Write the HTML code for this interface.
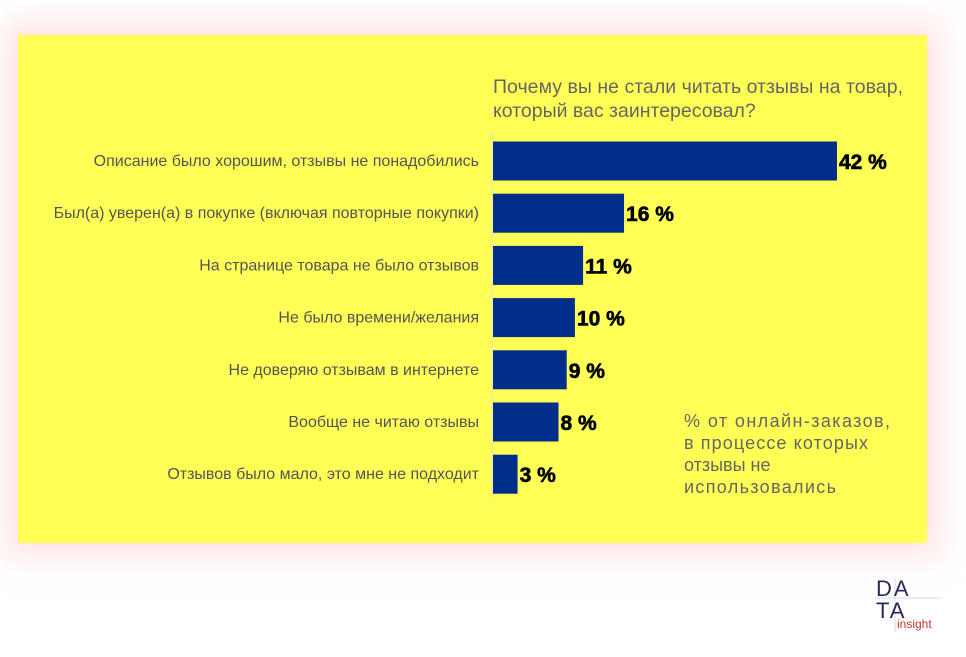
<!DOCTYPE html>
<html><head><meta charset="utf-8"><style>
body{margin:0;width:966px;height:657px;background:#fff;overflow:hidden;position:relative;font-family:"Liberation Sans","DejaVu Sans",sans-serif}
#panel{position:absolute;left:18px;top:35px;width:909px;height:508px;background:#ffff55;box-shadow:0 0 30px 12px rgba(255,200,200,0.55)}
#chart{position:absolute;left:0;top:0}
.lbl{font-size:16px;fill:#555}
.val{font-size:21px;font-weight:bold;fill:#000;stroke:#000;stroke-width:0.6}
</style></head><body>
<div id="panel"></div>
<svg id="chart" width="966" height="657">
<text x="493" y="93" font-size="19.5" fill="#666" textLength="410">Почему вы не стали читать отзывы на товар,</text>
<text x="493" y="117" font-size="19.5" fill="#666">который вас заинтересовал?</text>
<line x1="492" y1="133" x2="492" y2="498" stroke="#ddd" stroke-width="1"/>
<g id="bars"></g>
<text x="684" y="427" font-size="18" fill="#666" textLength="206">% от онлайн-заказов,</text>
<text x="684" y="449" font-size="18" fill="#666" textLength="184">в процессе которых</text>
<text x="684" y="471" font-size="18" fill="#666">отзывы не</text>
<text x="684" y="493" font-size="18" fill="#666" textLength="152">использовались</text>
<g>
<line x1="895" y1="578" x2="895" y2="632" stroke="#cde" stroke-width="1"/>
<line x1="874" y1="598" x2="940" y2="598" stroke="#cde" stroke-width="1"/>
<text x="876" y="596" font-size="22" letter-spacing="2" fill="#2a2a5a">DA</text>
<text x="876" y="618" font-size="22" letter-spacing="2" fill="#2a2a5a">TA</text>
<text x="897" y="628" font-size="12" fill="#c0392b">insight</text>
</g>
</svg>
<script>
const categories=["Описание было хорошим, отзывы не понадобились","Был(а) уверен(а) в покупке (включая повторные покупки)","На странице товара не было отзывов","Не было времени/желания","Не доверяю отзывам в интернете","Вообще не читаю отзывы","Отзывов было мало, это мне не подходит"];
const values=[42,16,11,10,9,8,3];
const labels=["42 %","16 %","11 %","10 %","9 %","8 %","3 %"];
const x0=493, pxPer=8.19, y0=161, step=52.2, bh=39;
const xs=v=>x0+v*pxPer, ys=i=>y0+i*step;
const g=document.getElementById('bars'), NS="http://www.w3.org/2000/svg";
values.forEach((v,i)=>{
 const r=document.createElementNS(NS,'rect');
 r.setAttribute('x',x0);r.setAttribute('y',ys(i)-bh/2);r.setAttribute('width',xs(v)-x0);r.setAttribute('height',bh);r.setAttribute('fill','#002e8a');
 
 
 g.appendChild(r);
 const t=document.createElementNS(NS,'text');
 t.setAttribute('x',479);t.setAttribute('y',ys(i)+5);t.setAttribute('text-anchor','end');t.setAttribute('class','lbl');t.textContent=categories[i];
 
 
 g.appendChild(t);
 const l=document.createElementNS(NS,'text');
 l.setAttribute('x',xs(v)+2);l.setAttribute('y',ys(i)+8);l.setAttribute('class','val');l.textContent=labels[i];
 
 
 g.appendChild(l);
});
</script>
</body></html>
